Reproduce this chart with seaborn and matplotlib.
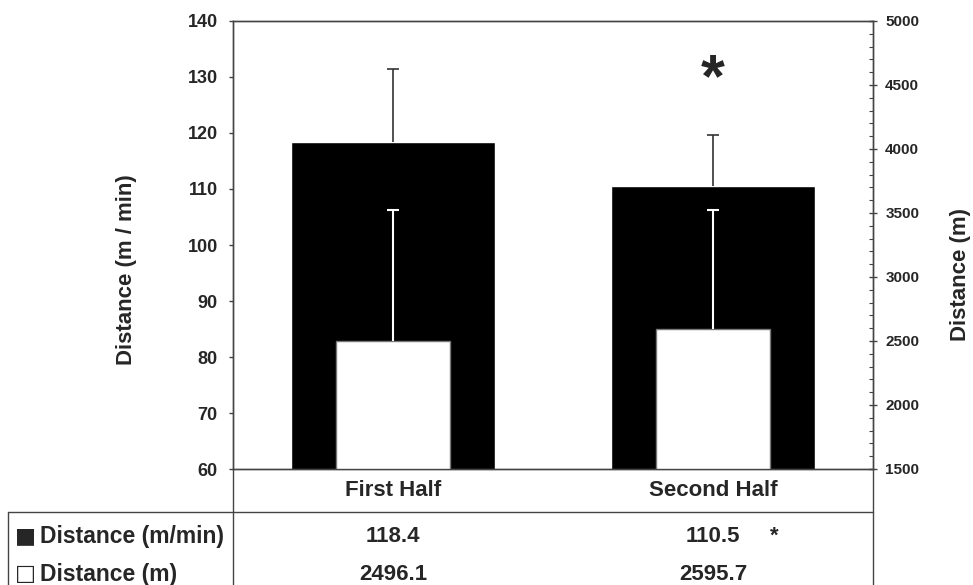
import matplotlib
matplotlib.use("Agg")
import matplotlib.pyplot as plt
import matplotlib.transforms as mtransforms
from matplotlib.lines import Line2D
from matplotlib.ticker import MultipleLocator
import seaborn as sns

# data
halves = ["First Half", "Second Half"]
speed_mean = [118.4, 110.5]   # m/min, black bars, left axis
speed_sd = [13.0, 9.1]
dist_mean = [2496.1, 2595.7]  # m, white bars, right axis
dist_sd = [1028, 928]
speed_labels = ["118.4", "110.5"]
dist_labels = ["2496.1", "2595.7"]
row_marks = ["\u25a0", "\u25a1"]
row_labels = ["Distance (m/min)", "Distance (m)"]

W, H = 973, 585
LINE = "#444444"

sns.set_theme(style="white")
plt.rcParams["font.family"] = ["Liberation Sans", "DejaVu Sans"]
plt.rcParams["font.weight"] = "bold"

fig = plt.figure(figsize=(W / 100, H / 100), dpi=100)
ax = fig.add_axes([233 / W, 1 - 469 / H, 640 / W, 448 / H])
ax2 = ax.twinx()

# bars
sns.barplot(x=halves, y=speed_mean, color="black", saturation=1,
            width=0.635, ax=ax)
sns.barplot(x=halves, y=dist_mean, color="white", saturation=1,
            width=0.355, edgecolor="#777777", linewidth=1, ax=ax2)

# upper error bars only (hide the lower caps)
eb1 = ax.errorbar([0, 1], speed_mean, yerr=[[0, 0], speed_sd], fmt="none",
                  ecolor="#333333", elinewidth=1.2, capsize=4, capthick=1.2,
                  zorder=3)
eb2 = ax2.errorbar([0, 1], dist_mean, yerr=[[0, 0], dist_sd], fmt="none",
                   ecolor="white", elinewidth=1.5, capsize=4, capthick=1.5,
                   zorder=3)
eb1[1][0].set_visible(False)
eb2[1][0].set_visible(False)

ax.set_xlim(-0.5, 1.5)
ax.set_ylim(60, 140)
ax2.set_ylim(1500, 5000)

ax.set_xticks([0, 1], halves)
ax.set_yticks(range(60, 141, 10))
ax2.set_yticks(range(1500, 5001, 500))
ax2.yaxis.set_minor_locator(MultipleLocator(100))

ax.tick_params(axis="x", length=0, pad=8, labelsize=16)
ax.tick_params(axis="y", left=True, direction="out", length=3, width=1,
               color=LINE, pad=8, labelsize=13)
ax2.tick_params(axis="y", which="major", right=True, direction="inout",
                length=6, width=1, color=LINE, pad=5.8, labelsize=11)
ax2.tick_params(axis="y", which="minor", right=True, direction="in",
                length=3, width=0.8, color=LINE)

for a in (ax, ax2):
    for s in a.spines.values():
        s.set_color(LINE)
        s.set_linewidth(1)

ax.set_xlabel("")
ax.set_ylabel("Distance (m / min)", fontsize=16, fontweight="bold")
ax.yaxis.set_label_coords(-0.15, 0.444)
ax2.set_ylabel("Distance (m)", fontsize=16, fontweight="bold")
ax2.yaxis.set_label_coords(1.12, 0.435)

# significance mark
ax.text(1, 126.6, "*", fontsize=44, ha="center", va="baseline")

# data table under the chart
trans = mtransforms.blended_transform_factory(ax.transData, fig.transFigure)
row_y = [1 - 536 / H, 1 - 574 / H]
for i in range(2):
    ax.text(i, row_y[0], speed_labels[i], transform=trans, ha="center",
            va="center", fontsize=16, clip_on=False)
    ax.text(i, row_y[1], dist_labels[i], transform=trans, ha="center",
            va="center", fontsize=16, clip_on=False)
ax.text(1.19, row_y[0], "*", transform=trans, ha="center", va="center",
        fontsize=16, clip_on=False)
for mark, lab, y in zip(row_marks, row_labels, row_y):
    fig.text(15 / W, y, mark, ha="left", va="center", fontsize=16,
             family="DejaVu Sans")
    fig.text(40 / W, y, lab, ha="left", va="center", fontsize=16.5)


def fig_line(x0, y0, x1, y1):
    fig.add_artist(Line2D([x0 / W, x1 / W], [1 - y0 / H, 1 - y1 / H],
                          transform=fig.transFigure, color=LINE, lw=1))


fig_line(8, 512, 873, 512)
fig_line(233, 469, 233, 585)
fig_line(873, 469, 873, 585)
fig_line(8, 512, 8, 585)

fig.savefig("out.png", dpi=100)
